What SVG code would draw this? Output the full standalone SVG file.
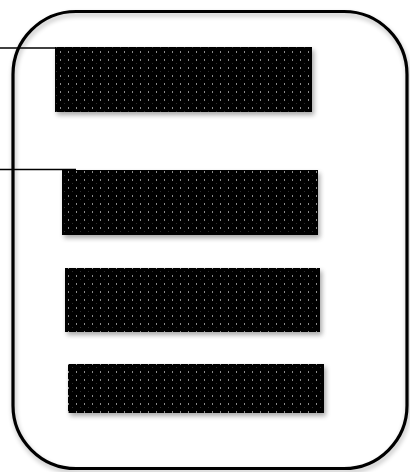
<svg xmlns="http://www.w3.org/2000/svg" width="410" height="472" viewBox="0 0 410 472">
<defs>
<pattern id="dots" x="0" y="0" width="8" height="8" patternUnits="userSpaceOnUse">
<rect width="8" height="8" fill="#050505"/>
<rect x="4" y="3" width="1" height="2" fill="#8a8a8a"/>
<rect x="0" y="7" width="1" height="1" fill="#2e2e2e"/>
</pattern>
<filter id="sh" x="-10%" y="-20%" width="125%" height="150%">
<feGaussianBlur in="SourceAlpha" stdDeviation="2.5"/>
<feOffset dx="2" dy="3" result="b"/>
<feComponentTransfer><feFuncA type="linear" slope="0.35"/></feComponentTransfer>
<feMerge><feMergeNode/><feMergeNode in="SourceGraphic"/></feMerge>
</filter>
<filter id="sh2" x="-10%" y="-10%" width="120%" height="120%">
<feGaussianBlur in="SourceAlpha" stdDeviation="2.5"/>
<feOffset dx="1" dy="3"/>
<feComponentTransfer><feFuncA type="linear" slope="0.3"/></feComponentTransfer>
<feMerge><feMergeNode/><feMergeNode in="SourceGraphic"/></feMerge>
</filter>
</defs>
<style>
.bar{fill:url(#dots);filter:url(#sh)}
.conn{stroke:#000;stroke-width:1.5;fill:none}
</style>
<rect width="410" height="472" fill="#fff"/>
<g id="frame">
<rect x="13" y="11.5" width="394" height="457" rx="63" ry="63" fill="none" stroke="#000" stroke-width="3.2" filter="url(#sh2)"/>
</g>
<g id="bar1"><rect class="bar" x="55" y="47" width="257" height="65"/></g>
<g id="bar2"><rect class="bar" x="62" y="170" width="256" height="65"/></g>
<g id="bar3"><rect class="bar" x="65" y="268" width="255" height="64"/></g>
<g id="bar4"><rect class="bar" x="68" y="364" width="256" height="49"/></g>
<g id="connectors">
<line class="conn" x1="0" y1="48" x2="56" y2="48"/>
<line class="conn" x1="0" y1="169.5" x2="76" y2="169.5"/>
</g>
</svg>
